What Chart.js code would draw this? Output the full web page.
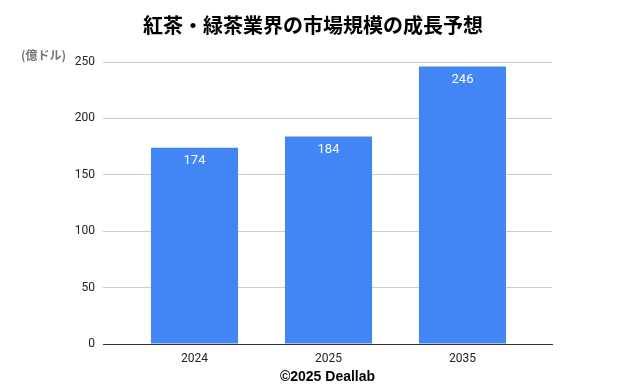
<!DOCTYPE html>
<html>
<head>
<meta charset="utf-8">
<script src="https://cdn.jsdelivr.net/npm/chart.js@4.4.1/dist/chart.umd.min.js"></script>
<style>
  html, body { margin: 0; padding: 0; background: #fff; }
  #wrap { width: 626px; height: 386px; }
</style>
</head>
<body>
<div id="wrap"><canvas id="myChart"></canvas></div>
<script>
const years = ['2024', '2025', '2035'];
const market = [174, 184, 246];
const yTicks = [0, 50, 100, 150, 200, 250];

const chartTitle = '紅茶・緑茶業界の市場規模の成長予想';
const unitLabel = '(億ドル)';
const footer = '©2025 Deallab';

// bars sit on a linear x axis so the outer gaps match the original
const points = market.map((v, i) => ({ x: i, y: v }));

const extraText = {
  id: 'extraText',
  afterDraw(chart) {
    const c = chart.ctx;
    c.save();
    c.textAlign = 'center';
    c.textBaseline = 'middle';
    c.fillStyle = '#000';
    c.font = 'bold 20px "Noto Sans CJK JP"';
    c.fillText(chartTitle, 313, 25);

    c.fillStyle = '#757575';
    c.font = 'bold 12px "Noto Sans CJK JP"';
    c.textAlign = 'left';
    c.fillText(unitLabel, 21, 55);

    // value labels inside the top of each bar
    const meta = chart.getDatasetMeta(0);
    c.fillStyle = '#fff';
    c.font = '13px Roboto';
    c.textAlign = 'center';
    meta.data.forEach((bar, i) => {
      c.fillText(String(market[i]), bar.x, bar.y + 13);
    });
    c.restore();
  }
};

new Chart(document.getElementById('myChart'), {
  type: 'bar',
  data: {
    datasets: [{
      data: points,
      backgroundColor: '#4285f4',
      borderWidth: 0,
      categoryPercentage: 1,
      barPercentage: 0.65
    }]
  },
  options: {
    responsive: true,
    maintainAspectRatio: false,
    animation: false,
    layout: { padding: { top: 62, right: 74, bottom: 0, left: 0 } },
    scales: {
      x: {
        type: 'linear',
        offset: false,
        min: -0.683,
        max: 2.668,
        afterFit: (s) => { s.height = 42; },
        grid: { display: false, drawTicks: false },
        border: { display: true, color: '#333', width: 1 },
        afterBuildTicks: (s) => { s.ticks = years.map((y, i) => ({ value: i })); },
        ticks: {
          padding: 8,
          color: '#222',
          font: { family: 'Roboto', size: 12 },
          callback: (v) => years[v] ?? ''
        },
        title: {
          display: true,
          text: footer,
          color: '#000',
          padding: { top: 2, bottom: 0 },
          font: { family: '"Liberation Sans"', size: 14, weight: 'bold' }
        }
      },
      y: {
        min: 0,
        max: 250,
        afterFit: (s) => { s.width = 103; },
        afterBuildTicks: (s) => { s.ticks = yTicks.map(v => ({ value: v })); },
        grid: { color: '#cccccc', drawTicks: false },
        border: { display: false },
        ticks: {
          padding: 8,
          color: '#222',
          font: { family: 'Roboto', size: 12 }
        }
      }
    },
    plugins: {
      legend: { display: false },
      tooltip: { enabled: false },
      title: { display: false }
    }
  },
  plugins: [extraText]
});
</script>
</body>
</html>
